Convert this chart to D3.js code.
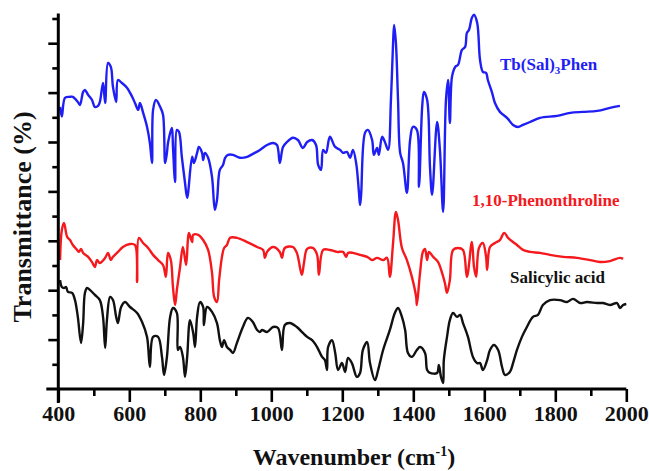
<!DOCTYPE html>
<html><head><meta charset="utf-8">
<script src="https://cdn.jsdelivr.net/npm/d3@7/dist/d3.min.js"></script>
<style>body{margin:0;background:#fff}</style>
</head><body><svg id="c" width="649" height="471"></svg>
<script>
// ---- data (wavenumber cm^-1, relative transmittance) ----
const tbWn = [405,410,419,433,441,455,461,470,475,484,495,503,512,517,526,532,540,548,554,563,568,579,594,608,616,625,630,639,650,658,664,667,675,687,695,701,706,709,720,723,729,734,740,748,757,763,777,782,791,796,805,808,813,822,833,841,847,855,864,870,878,892,912,932,948,968,988,1005,1016,1024,1033,1044,1061,1075,1089,1101,1115,1126,1132,1140,1146,1154,1165,1180,1194,1202,1213,1222,1230,1239,1247,1250,1253,1264,1272,1284,1289,1298,1303,1312,1320,1329,1337,1343,1346,1351,1357,1363,1371,1382,1391,1399,1410,1416,1425,1430,1439,1447,1453,1467,1475,1484,1492,1498,1503,1509,1518,1526,1537,1546,1551,1557,1565,1571,1580,1588,1596,1605,1610,1622,1630,1644,1664,1681,1695,1709,1729,1757,1805,1842,1878,1918,1954,1982];
const tbT  = [114.2,110.3,117.9,118.3,118.3,116.2,115.0,120.3,121.1,119.1,117.0,114.2,114.6,116.2,123.9,115.8,132.0,130.4,122.3,116.2,125.1,123.9,121.9,118.3,115.8,113.0,115.8,111.8,106.1,99.6,91.5,113.0,117.0,114.2,111.0,91.5,95.6,99.6,105.7,98.0,83.8,104.9,104.1,94.0,83.4,77.4,94.0,91.5,95.6,98.0,95.6,92.7,95.6,93.6,85.9,72.5,76.5,88.7,90.7,93.6,94.8,94.8,93.6,94.0,95.2,96.8,98.8,99.6,98.8,91.5,98.0,100.0,101.7,100.8,97.6,100.0,100.8,98.8,90.7,88.7,96.8,95.6,102.1,98.0,96.8,95.6,96.0,93.6,96.8,91.5,79.4,74.5,78.6,103.7,104.9,100.8,94.8,97.6,94.8,102.1,100.0,96.8,117.0,140.1,147.4,140.1,117.0,95.6,91.5,79.4,100.8,106.1,104.9,81.8,114.2,120.3,117.0,89.9,78.6,108.1,96.8,71.7,117.0,125.1,107.7,126.4,130.4,131.2,137.3,138.5,144.2,145.4,150.3,151.5,148.2,133.2,128.4,128.0,125.1,119.9,115.8,112.2,109.8,106.9,106.1,106.9,108.1,109.8,110.6,111.8,112.2,112.6,113.8,114.6];

const phWn = [405,410,416,425,433,441,453,458,464,470,484,495,503,509,517,532,540,548,554,568,582,602,616,622,627,639,653,667,681,695,703,709,717,723,729,734,743,751,760,765,768,777,780,794,808,822,833,839,847,853,861,867,875,884,903,932,960,977,982,988,1005,1024,1030,1038,1061,1072,1086,1092,1101,1117,1129,1134,1146,1165,1185,1202,1211,1216,1230,1250,1270,1284,1298,1315,1326,1334,1343,1351,1357,1368,1382,1396,1408,1410,1419,1427,1433,1439,1444,1456,1470,1481,1489,1495,1503,1512,1526,1540,1551,1565,1571,1577,1585,1596,1605,1608,1616,1630,1644,1656,1667,1681,1692,1709,1729,1757,1785,1822,1861,1898,1926,1954,1982,1991];
const phT  = [52.2,64.4,67.2,61.6,60.3,58.3,56.3,55.5,56.7,55.1,53.5,51.4,49.4,52.2,51.0,53.1,55.1,52.2,53.5,55.5,57.5,58.7,58.3,43.3,61.2,59.1,57.1,54.3,52.2,50.2,45.4,55.1,52.2,41.3,34.0,40.1,49.4,57.5,50.2,60.3,63.2,59.5,62.4,62.4,60.3,56.3,47.0,37.3,35.2,44.1,53.5,57.1,58.3,61.2,61.2,59.5,57.5,56.3,53.1,55.5,57.5,55.5,53.1,57.1,57.5,55.1,46.2,51.0,56.7,57.1,54.3,46.2,56.3,56.3,55.5,55.5,53.5,55.1,55.1,54.3,53.5,52.2,53.1,52.2,53.1,45.4,59.1,71.7,68.4,57.1,52.2,45.4,37.3,34.0,47.0,55.5,56.7,52.2,55.5,53.5,51.4,47.0,42.9,38.9,44.1,56.3,57.1,56.3,45.4,59.5,49.4,45.4,57.1,59.1,53.5,48.2,57.5,59.1,60.3,63.2,61.2,59.5,58.3,56.3,55.5,55.1,54.3,53.5,53.1,52.2,51.4,51.8,53.1,52.7];

const saWn = [405,410,416,422,427,439,447,455,464,470,475,481,489,503,517,526,532,537,546,554,563,568,577,588,602,622,636,650,658,667,681,692,698,706,715,723,734,737,743,751,757,763,771,780,785,791,799,808,810,819,833,847,855,861,867,875,884,892,903,920,934,948,960,968,974,988,1005,1019,1030,1038,1052,1072,1089,1101,1115,1129,1143,1151,1157,1160,1171,1180,1188,1199,1208,1216,1227,1241,1250,1258,1270,1278,1292,1301,1315,1334,1348,1357,1368,1377,1385,1396,1410,1419,1433,1439,1447,1467,1472,1478,1484,1486,1495,1503,1512,1523,1532,1540,1554,1568,1580,1588,1596,1608,1616,1627,1639,1650,1658,1672,1681,1692,1706,1720,1737,1751,1765,1785,1813,1833,1850,1870,1889,1918,1934,1954,1974,1982,1991,2000];
const saT  = [44.1,41.3,40.9,41.3,39.3,38.9,36.0,29.2,18.6,26.7,38.9,40.9,40.1,38.1,36.0,29.2,16.6,27.9,37.3,36.0,29.2,26.7,33.2,35.2,33.2,30.8,27.1,21.1,8.9,21.1,21.1,13.0,5.7,13.0,29.2,32.8,30.8,15.8,17.0,13.0,4.9,13.0,27.9,22.7,17.0,29.2,35.2,33.2,25.9,33.2,31.2,26.7,19.8,17.0,19.8,17.0,15.8,14.6,18.6,25.1,28.8,27.1,23.9,23.1,23.9,23.1,25.1,24.7,15.8,25.9,26.7,25.1,22.7,21.1,19.8,17.0,13.0,11.7,7.7,17.0,19.8,14.6,7.7,10.5,6.9,12.6,10.5,4.9,6.5,15.8,19.0,10.5,3.6,7.7,15.8,23.9,30.8,32.8,29.2,23.9,14.6,13.0,15.8,17.0,14.6,7.7,6.5,6.5,9.7,4.9,2.4,11.7,21.1,27.9,30.8,29.2,30.0,26.7,21.1,13.0,10.5,10.5,7.7,11.7,15.8,17.8,15.8,8.9,5.7,6.9,10.5,15.8,21.1,25.1,29.2,30.0,34.0,36.0,36.0,35.2,36.5,34.8,35.2,34.8,34.8,34.0,34.8,32.8,34.0,34.4];

const seriesNames  = ["Tb(Sal)3Phen", "1,10-Phenonthroline", "Salicylic acid"];
const seriesColors = ["#1f1ff5", "#f5191e", "#111111"];
const xTicks = d3.range(400, 2001, 100);
const xTickLabels = [400,600,800,1000,1200,1400,1600,1800,2000];
const yTicks = d3.range(10, 151, 10);

// ---- layout ----
const svg = d3.select("#c");
const x = d3.scaleLinear().domain([400, 2000]).range([58.3, 626.3]);
const y = d3.scaleLinear().domain([0, 150]).range([389, 18.5]);
const serif = "'Liberation Serif','Times New Roman',serif";

const series = [
  {wn: tbWn, t: tbT}, {wn: phWn, t: phT}, {wn: saWn, t: saT}
];
const line = d3.line().x(d => x(d[0])).y(d => y(d[1])).curve(d3.curveCatmullRom.alpha(0.5));
series.forEach((s, i) => {
  svg.append("path")
    .attr("d", line(s.wn.map((w, k) => [w, s.t[k]])))
    .attr("fill", "none").attr("stroke", seriesColors[i])
    .attr("stroke-width", 2.4).attr("stroke-linejoin", "round");
});

// x axis
const xAxis = d3.axisBottom(x).tickValues(xTicks)
  .tickFormat(d => xTickLabels.includes(d) ? d : "").tickSizeOuter(0);
const gx = svg.append("g").attr("transform", `translate(0,${y(0)})`).call(xAxis);
gx.select(".domain").remove();
gx.selectAll(".tick line").attr("stroke", "#000").attr("stroke-width", 2.6)
  .attr("y2", d => xTickLabels.includes(d) ? 13 : 7);
gx.selectAll(".tick text").attr("font-family", serif).attr("font-weight", "bold")
  .attr("font-size", 22).attr("fill", "#111").attr("y", 16).attr("dy", "0.71em");
svg.append("line").attr("x1", x(400) - 12).attr("x2", x(2000))
  .attr("y1", y(0)).attr("y2", y(0)).attr("stroke", "#000").attr("stroke-width", 3);

// y axis
const yAxis = d3.axisLeft(y).tickValues(yTicks).tickFormat("").tickSizeOuter(0);
const gy = svg.append("g").attr("transform", `translate(${x(400)},0)`).call(yAxis);
gy.select(".domain").remove();
gy.selectAll(".tick line").attr("stroke", "#000").attr("stroke-width", 2.6)
  .attr("x2", d => d % 20 === 0 ? -10 : -6);
svg.append("line").attr("x1", x(400)).attr("x2", x(400))
  .attr("y1", y(0) + 14).attr("y2", y(152)).attr("stroke", "#000").attr("stroke-width", 3);

// axis titles
const xt = svg.append("text").attr("x", 354).attr("y", 465).attr("text-anchor", "middle")
  .attr("font-family", serif).attr("font-weight", "bold").attr("font-size", 24).attr("fill", "#111");
xt.append("tspan").text("Wavenumber (cm");
xt.append("tspan").attr("font-size", 14).attr("dy", -9).text("-1");
xt.append("tspan").attr("dy", 9).text(")");

svg.append("text").attr("transform", "translate(31,217) rotate(-90)").attr("text-anchor", "middle")
  .attr("font-family", serif).attr("font-weight", "bold").attr("font-size", 26).attr("fill", "#111")
  .text("Transmittance  (%)");

// series labels
const lab1 = svg.append("text").attr("x", 500).attr("y", 70).attr("font-family", serif)
  .attr("font-weight", "bold").attr("font-size", 17).attr("fill", seriesColors[0]);
lab1.append("tspan").text("Tb(Sal)");
lab1.append("tspan").attr("font-size", 11).attr("dy", 4).text("3");
lab1.append("tspan").attr("dy", -4).text("Phen");
svg.append("text").attr("x", 472).attr("y", 206).attr("font-family", serif)
  .attr("font-weight", "bold").attr("font-size", 17).attr("fill", seriesColors[1]).text(seriesNames[1]);
svg.append("text").attr("x", 510).attr("y", 283).attr("font-family", serif)
  .attr("font-weight", "bold").attr("font-size", 17).attr("fill", seriesColors[2]).text(seriesNames[2]);
</script></body></html>
